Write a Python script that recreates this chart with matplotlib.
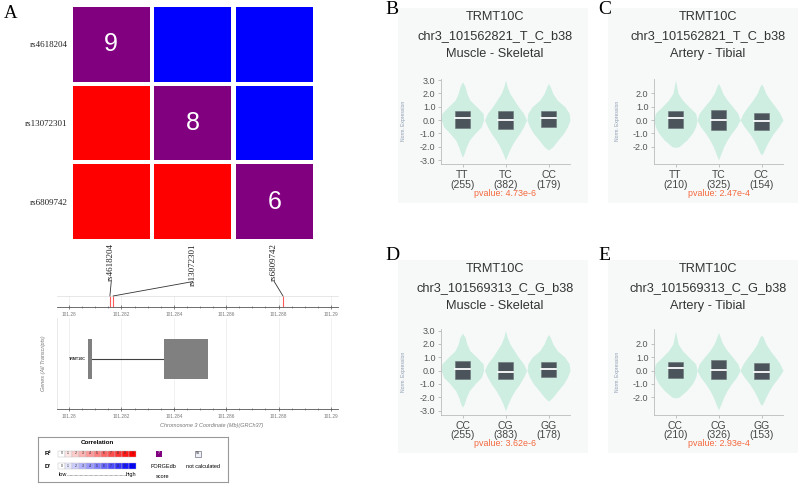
import matplotlib
matplotlib.use("Agg")
import matplotlib.pyplot as plt
from matplotlib.patches import Rectangle, ConnectionPatch

plt.rcParams["font.family"] = ["Liberation Sans", "DejaVu Sans"]
SERIF = ["Liberation Serif", "DejaVu Serif"]

W, H = 798, 484

# -------------------------
# Data: panel A (LD matrix + gene track)
# -------------------------
snps = ["rs4618204", "rs13072301", "rs6809742"]
snp_pos_mb = [101.28156, 101.28168, 101.28817]
forgedb_score = [9, 8, 6]
r2_pairs = [(1, 0, 1.0), (2, 0, 1.0), (2, 1, 1.0)]       # lower triangle (row, col, R2)
dprime_pairs = [(0, 1, 1.0), (0, 2, 1.0), (1, 2, 1.0)]   # upper triangle (row, col, D')

gene_name = "TRMT10C"
exon_starts = [101.28073, 101.28363]
exon_ends = [101.28088, 101.28531]
coord_ticks = [101.28, 101.282, 101.284, 101.286, 101.288, 101.29]
coord_labels = ["101.28", "101.282", "101.284", "101.286", "101.288", "101.29"]

legend_levels = [0, .1, .2, .3, .4, .5, .6, .7, .8, .9, 1]
legend_labels = ["0", ".1", ".2", ".3", ".4", ".5", ".6", ".7", ".8", ".9", "1"]

# -------------------------
# Data: eQTL violins (panels B-E)
# -------------------------
violin_levels = [-3.0, -2.5, -2.0, -1.5, -1.0, -0.5, 0.0, 0.5, 1.0, 1.5, 2.0, 2.5, 3.0]

b_genotypes = ["TT", "TC", "CC"]
b_counts = [255, 382, 179]
b_pvalue = "4.73e-6"
b_lo = [-2.8, -3.0, -2.25]
b_hi = [2.87, 3.0, 2.75]
b_widths = [
    [0, 0.04, 0.09, 0.16, 0.29, 0.44, 0.49, 0.48, 0.33, 0.17, 0.10, 0.06, 0],
    [0, 0.06, 0.13, 0.22, 0.33, 0.42, 0.49, 0.42, 0.30, 0.20, 0.10, 0.04, 0],
    [0, 0, 0.10, 0.22, 0.35, 0.44, 0.50, 0.48, 0.38, 0.20, 0.10, 0.04, 0],
]
b_q1 = [-0.62, -0.68, -0.55]
b_med = [0.17, 0.0, 0.12]
b_q3 = [0.70, 0.70, 0.70]

c_genotypes = ["TT", "TC", "CC"]
c_counts = [210, 325, 154]
c_pvalue = "2.47e-4"
c_lo = [-2.05, -3.0, -2.6]
c_hi = [3.0, 2.75, 2.7]
c_widths = [
    [0, 0, 0.08, 0.26, 0.39, 0.47, 0.50, 0.47, 0.31, 0.16, 0.06, 0.03, 0],
    [0, 0.06, 0.12, 0.20, 0.30, 0.42, 0.50, 0.45, 0.33, 0.20, 0.10, 0.04, 0],
    [0, 0.03, 0.10, 0.18, 0.28, 0.40, 0.50, 0.43, 0.32, 0.20, 0.10, 0.04, 0],
]
c_q1 = [-0.60, -0.72, -0.72]
c_med = [0.12, 0.03, -0.10]
c_q3 = [0.65, 0.78, 0.53]

d_genotypes = ["CC", "CG", "GG"]
d_counts = [255, 383, 178]
d_pvalue = "3.62e-6"
d_lo = [-2.75, -3.1, -2.3]
d_hi = [2.8, 3.05, 2.7]
d_widths = [
    [0, 0.04, 0.09, 0.16, 0.29, 0.44, 0.49, 0.48, 0.33, 0.17, 0.10, 0.06, 0],
    [0, 0.06, 0.13, 0.22, 0.33, 0.42, 0.49, 0.42, 0.30, 0.20, 0.10, 0.04, 0],
    [0, 0, 0.10, 0.22, 0.35, 0.44, 0.50, 0.48, 0.38, 0.20, 0.10, 0.04, 0],
]
d_q1 = [-0.60, -0.66, -0.46]
d_med = [0.09, -0.09, 0.14]
d_q3 = [0.70, 0.67, 0.67]

e_genotypes = ["CC", "CG", "GG"]
e_counts = [210, 326, 153]
e_pvalue = "2.93e-4"
e_lo = [-2.05, -2.95, -2.6]
e_hi = [2.95, 2.85, 2.65]
e_widths = [
    [0, 0, 0.08, 0.26, 0.39, 0.47, 0.50, 0.47, 0.31, 0.16, 0.06, 0.03, 0],
    [0, 0.06, 0.12, 0.20, 0.30, 0.42, 0.50, 0.45, 0.33, 0.20, 0.10, 0.04, 0],
    [0, 0.03, 0.10, 0.18, 0.28, 0.40, 0.50, 0.43, 0.32, 0.20, 0.10, 0.04, 0],
]
e_q1 = [-0.53, -0.65, -0.65]
e_med = [0.20, 0.04, -0.09]
e_q3 = [0.67, 0.82, 0.53]

VIOLIN_C = "#cdeee1"
BOX_C = "#4b545b"
PVAL_C = "#f4683c"
PANEL_BG = "#f7f9f9"


def px_rect(x0, y0, x1, y1):
    return [x0 / W, 1 - y1 / H, (x1 - x0) / W, (y1 - y0) / H]


def fig_text(fig, x, y, s, **kw):
    fig.text(x / W, 1 - y / H, s, **kw)


fig = plt.figure(figsize=(W / 100, H / 100), dpi=100)
fig.patch.set_facecolor("white")

# -------------------------
# Panel A: LD matrix
# -------------------------
ax_ld = fig.add_axes(px_rect(70.5, 5, 315, 241))
ax_ld.set_xlim(0, 3)
ax_ld.set_ylim(3, 0)
gap = 0.025
for i in range(3):
    ax_ld.add_patch(Rectangle((i + gap, i + gap), 1 - 2 * gap, 1 - 2 * gap, color="#800080", lw=0))
    ax_ld.text(i + 0.5, i + 0.5, str(forgedb_score[i]), color="white", fontsize=18,
               ha="center", va="center")
for r, c, v in r2_pairs:
    ax_ld.add_patch(Rectangle((c + gap, r + gap), 1 - 2 * gap, 1 - 2 * gap,
                              color=(1, 1 - v, 1 - v), lw=0))
for r, c, v in dprime_pairs:
    ax_ld.add_patch(Rectangle((c + gap, r + gap), 1 - 2 * gap, 1 - 2 * gap,
                              color=(1 - v, 1 - v, 1), lw=0))
ax_ld.set_xticks([])
ax_ld.set_yticks([i + 0.5 for i in range(3)])
ax_ld.set_yticklabels(snps, family=SERIF, fontsize=6.5, color="#222")
ax_ld.tick_params(axis="y", length=0, pad=2)
for s in ax_ld.spines.values():
    s.set_visible(False)
for j, name in enumerate(snps):
    ax_ld.text(j + 0.5, -0.01, name, rotation=90, ha="center", va="top", family=SERIF,
               fontsize=6.5, color="#222", transform=ax_ld.get_xaxis_transform())
fig_text(fig, 4, 13, "A", family=SERIF, fontsize=13.5, va="center", ha="left")

# -------------------------
# Panel A: coordinate ruler + gene track
# -------------------------
xmin, xmax = 101.27954, 101.29027
ax_ru = fig.add_axes(px_rect(57, 296, 338, 307))
ax_ru.set_xlim(xmin, xmax)
ax_ru.set_ylim(0, 1)
ax_ru.set_facecolor("none")
ax_ru.set_axisbelow(True)
ax_ru.set_yticks([])
ax_ru.set_xticks(coord_ticks)
ax_ru.set_xticklabels(coord_labels, fontsize=3.4, color="#777")
ax_ru.set_xticks([t + k * 0.0005 for t in coord_ticks[:-1] for k in (1, 2, 3)], minor=True)
ax_ru.tick_params(axis="x", which="major", direction="inout", length=3, width=0.5, color="#555", pad=2)
ax_ru.tick_params(axis="x", which="minor", direction="inout", length=2, width=0.4, color="#555")
ax_ru.grid(axis="x", color="#ebebeb", lw=0.5)
for side in ("left", "right"):
    ax_ru.spines[side].set_visible(False)
ax_ru.spines["top"].set_color("#dddddd")
ax_ru.spines["top"].set_linewidth(0.5)
ax_ru.spines["bottom"].set_color("#555")
ax_ru.spines["bottom"].set_linewidth(0.6)
for pos in snp_pos_mb:
    ax_ru.axvline(pos, color="#ff5a5a", lw=0.8)

for j, pos in enumerate(snp_pos_mb):
    con = ConnectionPatch(xyA=(j + 0.5, -0.172), coordsA=ax_ld.get_xaxis_transform(),
                          xyB=(pos, 1.0), coordsB=ax_ru.get_xaxis_transform(),
                          color="#333", lw=0.6)
    fig.add_artist(con)

ax_ge = fig.add_axes(px_rect(57, 318, 338, 409))
ax_ge.set_xlim(xmin, xmax)
ax_ge.set_ylim(0, 1)
ax_ge.set_facecolor("none")
ax_ge.set_axisbelow(True)
ax_ge.set_yticks([])
ax_ge.set_xticks(coord_ticks)
ax_ge.set_xticklabels(coord_labels, fontsize=3.4, color="#777")
ax_ge.set_xticks([t + k * 0.0005 for t in coord_ticks[:-1] for k in (1, 2, 3)], minor=True)
ax_ge.tick_params(axis="x", which="major", direction="inout", length=3, width=0.5, color="#555", pad=2)
ax_ge.tick_params(axis="x", which="minor", direction="inout", length=2, width=0.4, color="#555")
ax_ge.grid(axis="x", color="#ebebeb", lw=0.5)
for side in ("top", "right"):
    ax_ge.spines[side].set_visible(False)
ax_ge.spines["left"].set_color("#e0e0e0")
ax_ge.spines["left"].set_linewidth(0.5)
ax_ge.spines["bottom"].set_color("#555")
ax_ge.spines["bottom"].set_linewidth(0.6)
ax_ge.set_xlabel("Chromosome 3 Coordinate (Mb)(GRCh37)", fontsize=4, color="#777",
                 style="italic", labelpad=1.5)
ax_ge.xaxis.set_label_coords(0.55, -0.15)
ax_ge.plot([exon_ends[0], exon_starts[1]], [0.55, 0.55], color="#404040", lw=0.8)
for s, e in zip(exon_starts, exon_ends):
    ax_ge.add_patch(Rectangle((s, 0.33), e - s, 0.44, color="#808080", lw=0, zorder=2))
ax_ge.text(exon_starts[0] - 0.0001, 0.55, gene_name, fontsize=2.6, fontweight="bold",
           ha="right", va="center", color="#222")
fig_text(fig, 43, 363, "Genes (All Transcripts)", fontsize=4, color="#777", style="italic",
         rotation=90, ha="center", va="center")

# -------------------------
# Panel A: legend box
# -------------------------
ax_lg = fig.add_axes(px_rect(38, 437, 228, 482))
ax_lg.set_xlim(0, 190)
ax_lg.set_ylim(45, 0)
ax_lg.set_xticks([])
ax_lg.set_yticks([])
for s in ax_lg.spines.values():
    s.set_color("#999999")
    s.set_linewidth(0.8)
ax_lg.text(59, 6, "Correlation", fontsize=4.5, fontweight="bold", ha="center", va="center")
ax_lg.text(10, 16.3, "R²", fontsize=4.5, fontweight="bold", ha="center", va="center")
ax_lg.text(10, 29, "D'", fontsize=4.5, fontweight="bold", ha="center", va="center")
cw = 7.1
for k, (lv, lab) in enumerate(zip(legend_levels, legend_labels)):
    x0 = 20 + k * cw
    ax_lg.add_patch(Rectangle((x0, 13.5), cw, 6, facecolor=(1, 1 - lv, 1 - lv),
                              edgecolor="#bbbbbb", lw=0.3))
    ax_lg.add_patch(Rectangle((x0, 26), cw, 6, facecolor=(1 - lv, 1 - lv, 1),
                              edgecolor="#bbbbbb", lw=0.3))
    ax_lg.text(x0 + cw / 2, 16.5, lab, fontsize=2.6, ha="center", va="center", color="#333")
    ax_lg.text(x0 + cw / 2, 29, lab, fontsize=2.6, ha="center", va="center", color="#333")
ax_lg.text(21, 37.5, "low", fontsize=4, ha="left", va="center")
ax_lg.text(98, 37.5, "high", fontsize=4, ha="right", va="center")
ax_lg.plot([29, 89], [37.5, 37.5], color="#666", lw=0.5, ls=(0, (1, 0.8)))
ax_lg.add_patch(Rectangle((118, 13.5), 6, 6, facecolor="#800080", lw=0))
ax_lg.text(121, 16.5, "7", fontsize=2.6, ha="center", va="center", color="white")
ax_lg.text(125, 29, "FORGEdb", fontsize=4, ha="center", va="center")
ax_lg.text(125, 39, "score", fontsize=4, ha="center", va="center")
ax_lg.add_patch(Rectangle((157, 13.5), 6, 6, facecolor="#eef0f8", edgecolor="#556", lw=0.4))
ax_lg.text(160, 16.5, "NA", fontsize=2, ha="center", va="center", color="#333")
ax_lg.text(165, 29, "not calculated", fontsize=4, ha="center", va="center")


# -------------------------
# Panels B-E: eQTL violins
# -------------------------
def draw_eqtl(letter, x_axis, y_top, title_x, title_y, letter_y, bg_x, bg_y,
              variant, tissue, genotypes, counts, pvalue, lo, hi, widths,
              q1, med, q3, yticks):
    px_per = 13.33
    ylim = (-3.3, 3.1)
    y_bot = y_top + (ylim[1] - ylim[0]) * px_per
    fig.add_artist(Rectangle((bg_x[0] / W, 1 - bg_y[1] / H), (bg_x[1] - bg_x[0]) / W,
                             (bg_y[1] - bg_y[0]) / H, transform=fig.transFigure,
                             facecolor=PANEL_BG, lw=0, zorder=-10))
    ax = fig.add_axes(px_rect(x_axis, y_top, x_axis + 129, y_bot))
    ax.set_facecolor("none")
    ax.set_xlim(0, 3)
    ax.set_ylim(*ylim)
    for k in range(3):
        pts = [(lo[k], 0.0)]
        pts += [(lv, w) for lv, w in zip(violin_levels, widths[k]) if lo[k] < lv < hi[k]]
        pts.append((hi[k], 0.0))
        ys = [p[0] for p in pts]
        ws = [p[1] for p in pts]
        xc = k + 0.5
        ax.fill_betweenx(ys, [xc - w for w in ws], [xc + w for w in ws], color=VIOLIN_C, lw=0)
        ax.add_patch(Rectangle((xc - 0.17, q1[k]), 0.34, q3[k] - q1[k], facecolor=BOX_C,
                               edgecolor="#6b747a", lw=0.4, zorder=3))
        ax.plot([xc - 0.17, xc + 0.17], [med[k], med[k]], color="white", lw=1.3, zorder=4)
    ax.set_yticks(yticks)
    ax.set_yticklabels([f"{t:.1f}" for t in yticks], fontsize=6.5, color="#555")
    ax.set_xticks([0.5, 1.5, 2.5])
    ax.set_xticklabels([f"{g}\n({n})" for g, n in zip(genotypes, counts)], fontsize=7.5,
                       color="#444", linespacing=0.95)
    ax.tick_params(axis="y", length=2.5, width=0.5, color="#aaa", pad=1.5)
    ax.tick_params(axis="x", length=2.5, width=0.5, color="#aaa", pad=2)
    for side in ("top", "right"):
        ax.spines[side].set_visible(False)
    for side in ("left", "bottom"):
        ax.spines[side].set_color("#bbbbbb")
        ax.spines[side].set_linewidth(0.6)
    ax.text(1.5, -(193 - 164) / 85.3, f"pvalue: {pvalue}", fontsize=6.4, color=PVAL_C,
            ha="center", va="center", transform=ax.get_xaxis_transform())
    fig_text(fig, x_axis - 37, (y_top + y_bot) / 2, "Norm. Expression", fontsize=3.6,
             color="#8b9ab0", rotation=90, ha="center", va="center")
    for n, line in enumerate(["TRMT10C", variant, tissue]):
        fig_text(fig, title_x, title_y + n * 18.7, line, fontsize=9.2, color="#333",
                 ha="center", va="center")
    fig_text(fig, x_axis - 56, letter_y, letter, family=SERIF, fontsize=14,
             ha="left", va="center")


draw_eqtl("B", 441, 78.7, 495, 17, 10, (398, 588), (8, 203),
          "chr3_101562821_T_C_b38", "Muscle - Skeletal", b_genotypes, b_counts, b_pvalue,
          b_lo, b_hi, b_widths, b_q1, b_med, b_q3, [-3, -2, -1, 0, 1, 2, 3])
draw_eqtl("C", 654, 78.7, 708, 17, 10, (608, 798), (8, 203),
          "chr3_101562821_T_C_b38", "Artery - Tibial", c_genotypes, c_counts, c_pvalue,
          c_lo, c_hi, c_widths, c_q1, c_med, c_q3, [-2, -1, 0, 1, 2])
draw_eqtl("D", 441, 329.2, 495, 269, 255, (398, 588), (260, 453),
          "chr3_101569313_C_G_b38", "Muscle - Skeletal", d_genotypes, d_counts, d_pvalue,
          d_lo, d_hi, d_widths, d_q1, d_med, d_q3, [-3, -2, -1, 0, 1, 2, 3])
draw_eqtl("E", 654, 329.2, 708, 269, 255, (608, 798), (260, 453),
          "chr3_101569313_C_G_b38", "Artery - Tibial", e_genotypes, e_counts, e_pvalue,
          e_lo, e_hi, e_widths, e_q1, e_med, e_q3, [-2, -1, 0, 1, 2])

fig.savefig("out.png", dpi=100)
